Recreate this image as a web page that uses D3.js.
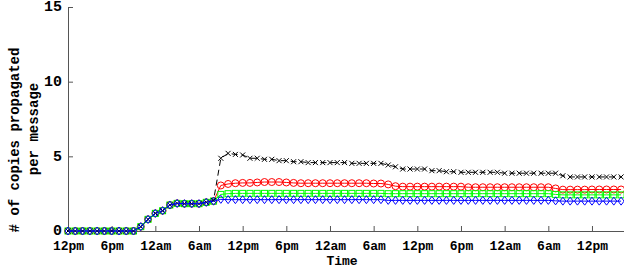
<!DOCTYPE html>
<html>
<head>
<meta charset="utf-8">
<script src="https://cdn.jsdelivr.net/npm/d3@7"></script>
<style>
  html, body { margin: 0; padding: 0; background: #fff; }
  svg { display: block; }
  text { font-family: "Liberation Mono", "DejaVu Sans Mono", monospace; font-weight: bold; fill: #000; }
</style>
</head>
<body>
<div id="chart"></div>
<script>
// ---- data (hour offset from first 12pm) ----
const hours = d3.range(0, 77);
const early = [0,0,0,0,0,0,0,0,0,0,0.29,0.78,1.18,1.36,1.74,1.85,1.83,1.83,1.83,1.92,2.0];

const blackTail = [4.87,5.2,5.13,5.09,4.87,4.87,4.8,4.8,4.71,4.71,4.64,4.64,4.58,4.58,4.58,4.58,4.58,4.58,4.53,4.53,4.53,4.53,4.53,4.42,4.3,4.15,4.15,4.15,4.15,4.04,4.04,3.97,3.97,3.93,3.93,3.93,3.93,3.93,3.93,3.87,3.87,3.87,3.87,3.87,3.87,3.87,3.87,3.7,3.62,3.62,3.62,3.62,3.62,3.62,3.62,3.62];
const redTail = [3.05,3.15,3.2,3.22,3.22,3.25,3.28,3.28,3.28,3.25,3.22,3.2,3.2,3.2,3.2,3.2,3.2,3.2,3.2,3.2,3.2,3.18,3.18,3.12,3.0,2.97,2.97,2.97,2.97,2.97,2.97,2.97,2.97,2.97,2.93,2.93,2.93,2.93,2.93,2.93,2.93,2.93,2.93,2.93,2.93,2.93,2.85,2.77,2.77,2.77,2.77,2.78,2.78,2.78,2.78,2.78];
const greenTail = [2.45,2.5,2.52,2.52,2.52,2.52,2.52,2.52,2.52,2.52,2.52,2.52,2.52,2.52,2.52,2.52,2.52,2.52,2.52,2.52,2.52,2.52,2.52,2.5,2.5,2.5,2.5,2.5,2.5,2.5,2.5,2.5,2.5,2.5,2.5,2.5,2.5,2.5,2.5,2.5,2.5,2.5,2.5,2.5,2.5,2.5,2.45,2.42,2.42,2.42,2.42,2.42,2.42,2.42,2.42,2.42];
const blueTail = [2.12,2.1,2.1,2.1,2.1,2.1,2.1,2.1,2.1,2.1,2.1,2.1,2.1,2.1,2.1,2.1,2.1,2.1,2.1,2.1,2.1,2.1,2.1,2.05,2.05,2.05,2.05,2.05,2.05,2.05,2.05,2.05,2.05,2.05,2.05,2.05,2.05,2.05,2.05,2.05,2.05,2.05,2.05,2.05,2.05,2.05,2.02,2.0,2.0,2.0,2.0,2.0,2.0,2.0,2.0,2.0];

const blackVals = early.map((v,i)=> i===20 ? 2.05 : v).concat(blackTail);
const redVals = early.concat(redTail);
const greenVals = early.concat(greenTail);
const blueVals = early.concat(blueTail);

const xTickValues = d3.range(0, 73, 6);
const xTickLabels = ["12pm","6pm","12am","6am"];
const yTickValues = [0, 5, 10, 15];

// ---- chart ----
const W = 624, H = 271;
const svg = d3.select("#chart").append("svg").attr("width", W).attr("height", H);

const x = d3.scaleLinear().domain([0, 76.4]).range([68, 624]);
const y = d3.scaleLinear().domain([0, 15]).range([231, 7]);

const axisColor = "#555";

const xAxis = d3.axisBottom(x).tickValues(xTickValues)
  .tickFormat((d,i)=> xTickLabels[i % 4]).tickSizeInner(-5).tickSizeOuter(0).tickPadding(10);
const gx = svg.append("g").attr("transform", `translate(0,${y(0)})`).call(xAxis);
gx.attr("font-family", null).attr("font-size", null);
gx.selectAll("text").style("font-size","13px");

const yAxis = d3.axisLeft(y).tickValues(yTickValues).tickSizeInner(-5).tickSizeOuter(0).tickPadding(6);
const gy = svg.append("g").attr("transform", `translate(${x(0)},0)`).call(yAxis);
gy.attr("font-family", null).attr("font-size", null);
gy.selectAll("text").style("font-size","15px").attr("dy","0.25em");

svg.selectAll(".domain, .tick line").attr("stroke", axisColor);

svg.append("text").attr("x", 342).attr("y", 265).attr("text-anchor","middle")
  .style("font-size","13px").text("Time");

svg.append("text").attr("transform","translate(19,140) rotate(-90)").attr("text-anchor","middle")
  .style("font-size","14px").text("# of copies propagated");
svg.append("text").attr("transform","translate(38,129) rotate(-90)").attr("text-anchor","middle")
  .style("font-size","14px").text("per message");

const plot = svg.append("g");
const line = d3.line().x((d,i)=>x(hours[i])).y(d=>y(d));

function series(vals, color, dash, marker) {
  plot.append("path").datum(vals).attr("d", line).attr("fill","none")
    .attr("stroke", color).attr("stroke-width", 1).attr("stroke-dasharray", dash);
  const g = plot.append("g");
  vals.forEach((v,i)=>{
    marker(g, x(hours[i]), y(v), color);
  });
}

const circle = (g,cx,cy,c)=> g.append("circle").attr("cx",cx).attr("cy",cy).attr("r",3.5)
  .attr("fill","none").attr("stroke",c).attr("stroke-width",1);
const square = (g,cx,cy,c)=> g.append("rect").attr("x",cx-3).attr("y",cy-3).attr("width",6).attr("height",6)
  .attr("fill","none").attr("stroke",c).attr("stroke-width",1);
const diamond = (g,cx,cy,c)=> g.append("path").attr("d",`M${cx},${cy-4}L${cx+3},${cy}L${cx},${cy+4}L${cx-3},${cy}Z`)
  .attr("fill","none").attr("stroke",c).attr("stroke-width",1);
const cross = (g,cx,cy,c)=> g.append("path").attr("d",`M${cx-2.5},${cy-2.5}L${cx+2.5},${cy+2.5}M${cx-2.5},${cy+2.5}L${cx+2.5},${cy-2.5}`)
  .attr("fill","none").attr("stroke",c).attr("stroke-width",1);

series(redVals, "#ff0000", null, circle);
series(greenVals, "#00ff00", null, square);
series(blackVals, "#000000", "6,4", cross);
series(blueVals, "#0000ff", null, diamond);
</script>
</body>
</html>
